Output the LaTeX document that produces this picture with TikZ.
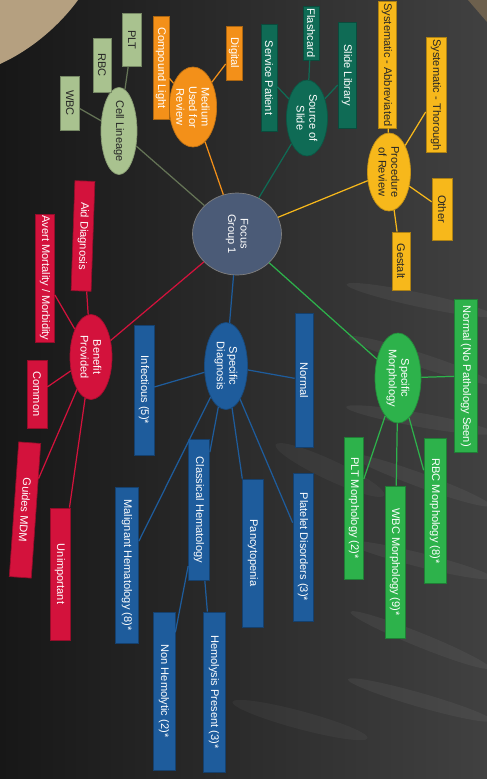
\documentclass[tikz,border=0pt]{standalone}
\usepackage{fontspec}
\setmainfont{Liberation Sans}
\usetikzlibrary{shapes.geometric}
\definecolor{ground}{HTML}{171717}
\definecolor{hide}{HTML}{B5A080}
\definecolor{slate}{HTML}{4B5B77}
\definecolor{sage}{HTML}{A9C28F}
\definecolor{amber}{HTML}{F39019}
\definecolor{pine}{HTML}{0F6B55}
\definecolor{gold}{HTML}{F7B81B}
\definecolor{morph}{HTML}{2DB24B}
\definecolor{diag}{HTML}{1E5C9C}
\definecolor{crimson}{HTML}{D3123C}
\tikzset{
  every node/.style={font=\fontsize{6.3}{7.2}\selectfont},
  hub/.style={ellipse, draw=black!50, fill=slate, text=white, rotate=-90, align=center, inner sep=0pt},
  topic/.style={ellipse, draw=#1!80!black, fill=#1, text=white, rotate=-90, align=center, inner sep=0pt},
  darktopic/.style={topic=#1, text=black!85},
  tag/.style={rectangle, draw=#1!70!black, fill=#1, text=white, rotate=-90, inner sep=1pt},
  darktag/.style={tag=#1, text=black!85},
  link/.style={draw=#1, line width=0.7pt}
}
\begin{document}
\begin{tikzpicture}[x=0.02cm, y=-0.02cm]
\useasboundingbox (0,0) rectangle (487,779);
\shade[left color=ground, middle color=ground, right color=ground!82!white] (0,0) rectangle (487,779);
\fill[hide] (0,0) -- (78,0) .. controls (62,22) and (35,48) .. (0,64) -- cycle;
\fill[hide!60!black] (468,0) -- (487,0) -- (487,22) -- cycle;
\foreach \y/\r in {300/-12, 360/-18, 420/-10, 480/-20, 560/-14, 640/-22, 700/-16}
  \fill[white, opacity=0.05] (420,\y) ellipse [x radius=1.5cm, y radius=0.14cm, rotate=\r];
\fill[white, opacity=0.04] (330,470) ellipse [x radius=1.2cm, y radius=0.2cm, rotate=-25];
\fill[white, opacity=0.04] (300,720) ellipse [x radius=1.4cm, y radius=0.18cm, rotate=-15];

\node[hub, minimum width=1.64cm, minimum height=1.78cm] (focus) at (237,234) {Focus\\Group 1};

\node[darktopic=sage, minimum width=1.46cm, minimum height=0.72cm] (cell) at (119,131) {Cell Lineage};
\node[darktag=sage, minimum width=1.08cm, minimum height=0.38cm] (wbc) at (70,103) {WBC};
\node[darktag=sage, minimum width=1.08cm, minimum height=0.36cm] (rbc) at (102,65) {RBC};
\node[darktag=sage, minimum width=1.06cm, minimum height=0.38cm] (plt) at (132,40) {PLT};

\node[topic=amber, minimum width=1.6cm, minimum height=0.8cm] (medium) at (193,107) {Medium\\Used for\\Review};
\node[tag=amber, minimum width=2.06cm, minimum height=0.32cm] (light) at (161,68) {Compound Light};
\node[tag=amber, minimum width=1.08cm, minimum height=0.32cm] (digital) at (234,53) {Digital};

\node[topic=pine, minimum width=1.52cm, minimum height=0.82cm] (source) at (307,118) {Source of\\Slide};
\node[tag=pine, minimum width=2.14cm, minimum height=0.32cm] (patient) at (269,78) {Service Patient};
\node[tag=pine, minimum width=1.08cm, minimum height=0.32cm] (flash) at (311,33) {Flashcard};
\node[tag=pine, minimum width=2.12cm, minimum height=0.36cm] (library) at (347,75) {Slide Library};

\node[darktopic=gold, minimum width=1.56cm, minimum height=0.86cm] (proc) at (389,172) {Procedure\\of Review};
\node[darktag=gold, minimum width=2.12cm, minimum height=0.36cm] (abbrev) at (387,65) {Systematic - Abbreviated};
\node[darktag=gold, minimum width=2.2cm, minimum height=0.4cm] (thorough) at (436,95) {Systematic - Thorough};
\node[darktag=gold, minimum width=1.24cm, minimum height=0.4cm] (other) at (442,209) {Other};
\node[darktag=gold, minimum width=1.16cm, minimum height=0.36cm] (gestalt) at (401,261) {Gestalt};

\node[topic=crimson, minimum width=1.7cm, minimum height=0.84cm] (benefit) at (91,357) {Benefit\\Provided};
\node[tag=crimson, minimum width=2.2cm, minimum height=0.4cm, rotate=-2] (aid) at (83,236) {Aid Diagnosis};
\node[tag=crimson, minimum width=2.42cm, minimum height=0.38cm] (avert) at (45,278) {Avert Mortality / Morbidity};
\node[tag=crimson, minimum width=1.36cm, minimum height=0.4cm] (common) at (37,394) {Common};
\node[tag=crimson, minimum width=2.7cm, minimum height=0.44cm, rotate=-4] (mdm) at (25,510) {Guides MDM};
\node[tag=crimson, minimum width=2.64cm, minimum height=0.4cm] (unimp) at (60,574) {Unimportant};

\node[topic=diag, minimum width=1.74cm, minimum height=0.86cm] (diagnosis) at (226,366) {Specific\\Diagnosis};
\node[tag=diag, minimum width=2.6cm, minimum height=0.4cm] (infect) at (144,390) {Infectious (5)*};
\node[tag=diag, minimum width=2.68cm, minimum height=0.36cm] (normal) at (304,380) {Normal};
\node[tag=diag, minimum width=2.82cm, minimum height=0.42cm] (classic) at (199,510) {Classical Hematology};
\node[tag=diag, minimum width=3.12cm, minimum height=0.46cm] (malig) at (127,565) {Malignant Hematology (8)*};
\node[tag=diag, minimum width=2.96cm, minimum height=0.42cm] (pancy) at (253,553) {Pancytopenia};
\node[tag=diag, minimum width=2.96cm, minimum height=0.4cm] (platelet) at (303,547) {Platelet Disorders (3)*};
\node[tag=diag, minimum width=3.16cm, minimum height=0.44cm] (nonhemo) at (164,691) {Non Hemolytic (2)*};
\node[tag=diag, minimum width=3.2cm, minimum height=0.44cm] (hemo) at (214,692) {Hemolysis Present (3)*};

\node[topic=morph, minimum width=1.8cm, minimum height=0.92cm] (morphology) at (398,378) {Specific\\Morphology};
\node[tag=morph, minimum width=3.06cm, minimum height=0.46cm] (nopath) at (466,376) {Normal (No Pathology Seen)};
\node[tag=morph, minimum width=2.84cm, minimum height=0.38cm] (pltm) at (354,508) {PLT Morphology (2)*};
\node[tag=morph, minimum width=3.04cm, minimum height=0.4cm] (wbcm) at (395,562) {WBC Morphology (9)*};
\node[tag=morph, minimum width=2.9cm, minimum height=0.44cm] (rbcm) at (435,511) {RBC Morphology (8)*};

\draw[link=sage!60!black] (focus) -- (cell);
\draw[link=sage!60!black] (cell) -- (wbc);
\draw[link=sage!60!black] (cell) -- (rbc);
\draw[link=sage!60!black] (cell) -- (plt);
\draw[link=amber] (focus) -- (medium);
\draw[link=amber] (medium) -- (light);
\draw[link=amber] (medium) -- (digital);
\draw[link=pine] (focus) -- (source);
\draw[link=pine] (source) -- (patient);
\draw[link=pine] (source) -- (flash);
\draw[link=pine] (source) -- (library);
\draw[link=gold] (focus) -- (proc);
\draw[link=gold] (proc) -- (abbrev);
\draw[link=gold] (proc) -- (thorough);
\draw[link=gold] (proc) -- (other);
\draw[link=gold] (proc) -- (gestalt);
\draw[link=crimson] (focus) -- (benefit);
\draw[link=crimson] (benefit) -- (aid);
\draw[link=crimson] (benefit) -- (avert);
\draw[link=crimson] (benefit) -- (common);
\draw[link=crimson] (benefit) -- (mdm);
\draw[link=crimson] (benefit) -- (unimp);
\draw[link=diag] (focus) -- (diagnosis);
\draw[link=diag] (diagnosis) -- (infect);
\draw[link=diag] (diagnosis) -- (normal);
\draw[link=diag] (diagnosis) -- (classic);
\draw[link=diag] (diagnosis) -- (malig);
\draw[link=diag] (diagnosis) -- (pancy);
\draw[link=diag] (diagnosis) -- (platelet);
\draw[link=diag] (classic) -- (nonhemo);
\draw[link=diag] (classic) -- (hemo);
\draw[link=morph] (focus) -- (morphology);
\draw[link=morph] (morphology) -- (nopath);
\draw[link=morph] (morphology) -- (pltm);
\draw[link=morph] (morphology) -- (wbcm);
\draw[link=morph] (morphology) -- (rbcm);
\end{tikzpicture}
\end{document}
